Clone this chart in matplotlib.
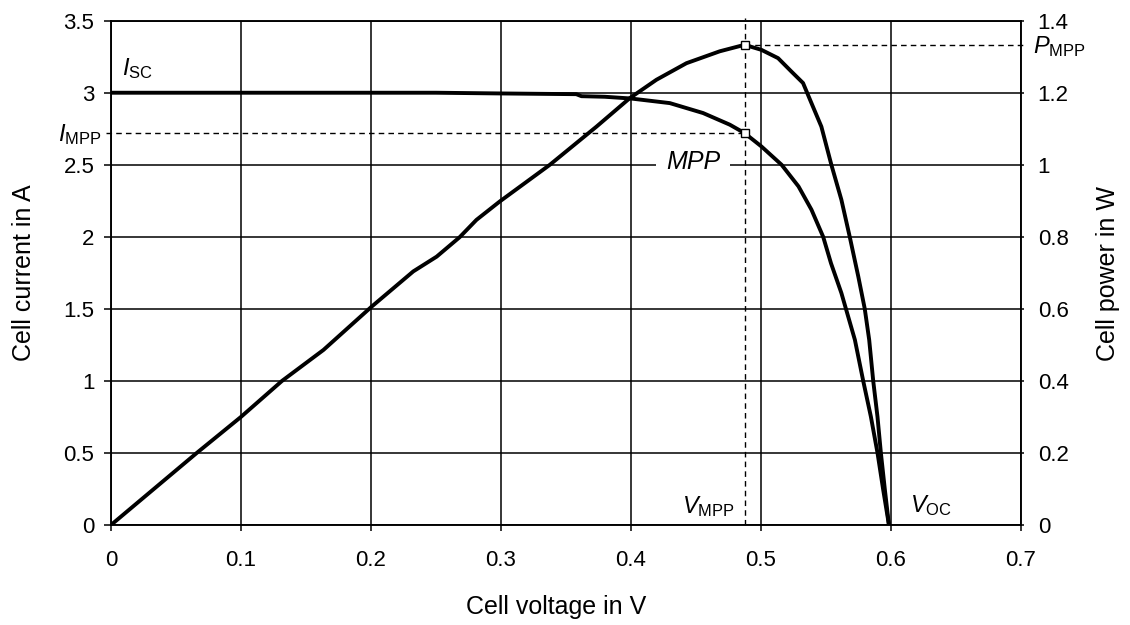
import matplotlib
matplotlib.use('Agg')
import matplotlib.pyplot as plt
import numpy as np

plt.rcParams['font.family'] = ['Liberation Sans', 'DejaVu Sans']
plt.rcParams['mathtext.fontset'] = 'custom'
plt.rcParams['mathtext.rm'] = 'Liberation Sans'
plt.rcParams['mathtext.it'] = 'Liberation Sans:italic'

# I-V curve
VOLT_I = [0.0, 0.10, 0.20, 0.25, 0.30, 0.358, 0.362, 0.38, 0.400, 0.430, 0.4556,
          0.4762, 0.4875, 0.5005, 0.516, 0.529, 0.539, 0.548, 0.554, 0.562, 0.5724,
          0.5788, 0.5847, 0.5898, 0.5942, 0.5986]
CURRENT = [3.0, 3.0, 3.0, 3.0, 2.995, 2.99, 2.976, 2.972, 2.96, 2.928, 2.859,
           2.778, 2.72, 2.627, 2.50, 2.35, 2.188, 2.0, 1.817, 1.61, 1.285,
           1.0, 0.752, 0.5, 0.243, 0.0]

# P-V curve
VOLT_P = [0.0, 0.066, 0.10, 0.1316, 0.1635, 0.2005, 0.2326, 0.2506, 0.2683, 0.2812,
          0.2991, 0.3377, 0.3736, 0.3992, 0.4197, 0.4428, 0.4684, 0.4875, 0.5005,
          0.5133, 0.5235, 0.5325, 0.539, 0.5466, 0.5543, 0.562, 0.5685, 0.575,
          0.580, 0.5834, 0.5865, 0.5898, 0.5924, 0.5955, 0.5986]
POWER = [0.0, 0.2, 0.30, 0.40, 0.486, 0.606, 0.704, 0.745, 0.799, 0.847,
         0.898, 1.0, 1.106, 1.185, 1.236, 1.282, 1.315, 1.333, 1.319,
         1.296, 1.259, 1.227, 1.171, 1.106, 1.0, 0.903, 0.799, 0.69,
         0.6, 0.514, 0.4, 0.3, 0.2, 0.097, 0.0]

V_MPP, I_MPP, P_MPP = 0.4875, 2.72, 1.333

X_TICKS = [0, 0.1, 0.2, 0.3, 0.4, 0.5, 0.6, 0.7]
I_TICKS = [0, 0.5, 1, 1.5, 2, 2.5, 3, 3.5]
P_TICKS = [0, 0.2, 0.4, 0.6, 0.8, 1, 1.2, 1.4]

fig = plt.figure(figsize=(11.3, 6.25), dpi=100)
ax = fig.add_axes([0.0982, 0.16, 0.8051, 0.8069])
ax2 = ax.twinx()

ax.set_xlim(0, 0.7)
ax.set_ylim(0, 3.5)
ax2.set_ylim(0, 1.4)
ax.set_xticks(X_TICKS, [f'{v:g}' for v in X_TICKS])
ax.set_yticks(I_TICKS, [f'{v:g}' for v in I_TICKS])
ax2.set_yticks(P_TICKS, [f'{v:g}' for v in P_TICKS])

ax.grid(True, color='black', lw=1.1)
ax.set_axisbelow(True)
for a in (ax, ax2):
    for s in a.spines.values():
        s.set_linewidth(1.1)
ax.tick_params(axis='y', direction='out', length=5, width=1.1, labelsize=16, pad=7)
ax.tick_params(axis='x', direction='out', length=4.3, width=1.1, labelsize=16, pad=14)
ax2.tick_params(axis='y', direction='out', length=2.2, width=1.1, labelsize=16, pad=10)

ax.plot(VOLT_I, CURRENT, color='black', lw=2.8, solid_joinstyle='round', zorder=3)
ax2.plot(VOLT_P, POWER, color='black', lw=2.8, solid_joinstyle='round', zorder=3)

dash = (0, (4, 3))
ax.plot([-0.004, V_MPP], [I_MPP, I_MPP], color='black', lw=1, ls=dash, clip_on=False)
ax.plot([V_MPP, V_MPP], [0, 3.52], color='black', lw=1, ls=dash, clip_on=False)
ax2.plot([V_MPP, 0.703], [P_MPP, P_MPP], color='black', lw=1, ls=dash, clip_on=False)

ax.plot(V_MPP, I_MPP, 's', ms=6, mfc='white', mec='black', mew=1, zorder=5)
ax2.plot(V_MPP, P_MPP, 's', ms=6, mfc='white', mec='black', mew=1, zorder=5)

fs = 17
ax.text(0.0085, 3.08, r'$I_{\mathrm{SC}}$', fontsize=fs, ha='left', va='bottom')
ax.annotate(r'$I_{\mathrm{MPP}}$', (0, I_MPP), xytext=(-7, -1), textcoords='offset points',
            fontsize=fs, ha='right', va='center', annotation_clip=False)
ax.text(0.4477, 2.52, 'MPP', fontsize=18, style='italic', ha='center', va='center', zorder=4,
        bbox=dict(boxstyle='square,pad=0.4', fc='white', ec='none'))
ax.annotate(r'$V_{\mathrm{MPP}}$', (V_MPP, 0), xytext=(-7, 4), textcoords='offset points',
            fontsize=fs, ha='right', va='bottom')
ax.text(0.6146, 0.05, r'$V_{\mathrm{OC}}$', fontsize=fs, ha='left', va='bottom')
ax2.annotate(r'$P_{\mathrm{MPP}}$', (0.7, P_MPP), xytext=(9, -1), textcoords='offset points',
             fontsize=fs, ha='left', va='center', annotation_clip=False)

fig.text(24 / 1130, 1 - 273 / 625, 'Cell current in A', rotation=90, fontsize=18,
         ha='center', va='center')
fig.text(1108 / 1130, 1 - 273 / 625, 'Cell power in W', rotation=90, fontsize=18,
         ha='center', va='center')
fig.text(556 / 1130, 1 - 607 / 625, 'Cell voltage in V', fontsize=18, ha='center', va='center')

fig.savefig('out.png', dpi=100)
